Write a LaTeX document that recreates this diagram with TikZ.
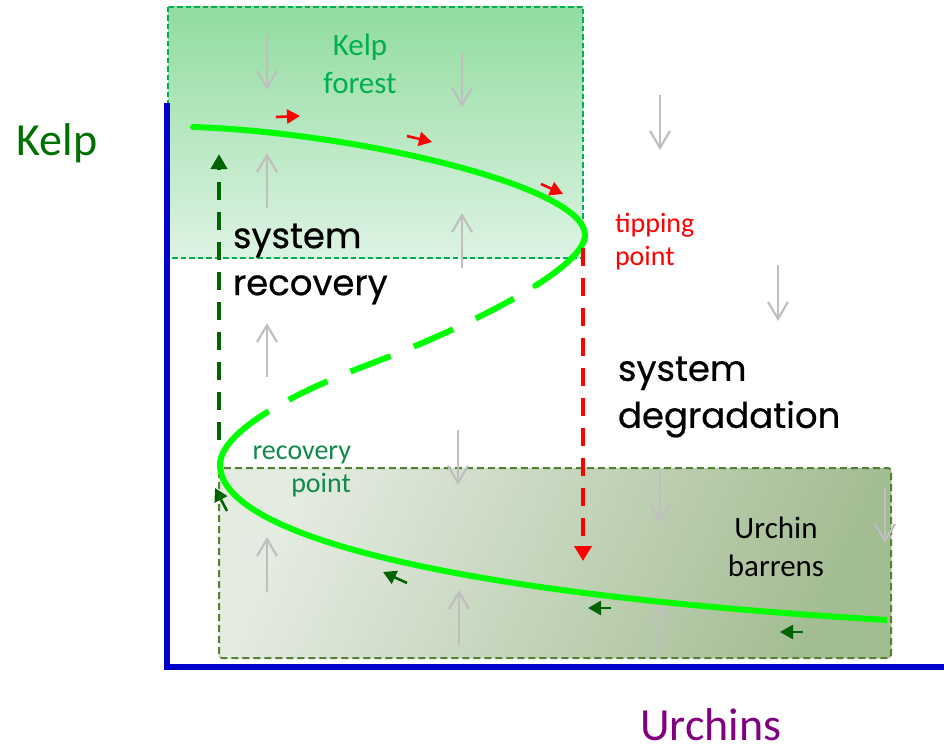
\documentclass[tikz,border=0pt]{standalone}
\usepackage{fontspec}
\setmainfont{Carlito}
\newfontfamily\comicfont[FakeBold=0.6]{Poppins}
\usetikzlibrary{arrows.meta}
\definecolor{kelptop}{RGB}{145,220,160}
\definecolor{kelpbot}{RGB}{222,243,227}
\definecolor{kelpborder}{RGB}{0,176,80}
\definecolor{urchleft}{RGB}{228,235,225}
\definecolor{urchright}{RGB}{163,189,147}
\definecolor{urchborder}{RGB}{84,130,53}
\definecolor{curvegreen}{RGB}{0,255,0}
\definecolor{axisblue}{RGB}{0,0,204}
\definecolor{kelplabel}{RGB}{0,112,0}
\definecolor{urchlabel}{RGB}{128,0,128}
\definecolor{recovlabel}{RGB}{16,138,74}
\definecolor{darkgreen}{RGB}{0,100,0}
\definecolor{arrowgray}{RGB}{191,191,191}
\definecolor{tipred}{RGB}{255,0,0}
\begin{document}
\begin{tikzpicture}[x=1pt,y=-1pt,
  garrow/.style={draw=arrowgray,line width=2.2pt,-{Straight Barb[length=17pt,width=20pt]}},
  redsmall/.style={draw=tipred,fill=tipred,line width=2.6pt,-{Triangle[length=13pt,width=14pt]}},
  greensmall/.style={draw=darkgreen,fill=darkgreen,line width=2.6pt,-{Triangle[length=13pt,width=14pt]}},
  lbl/.style={inner sep=0pt,outer sep=0pt},
  curve/.style={draw=curvegreen,line width=6pt},
  bigtxt/.style={lbl,font=\comicfont\fontsize{35.5}{47}\selectfont,align=left,anchor=west},
  midtxt/.style={lbl,font=\fontsize{31}{38.5}\selectfont,align=center},
  smalltxt/.style={lbl,font=\fontsize{28}{33}\selectfont},
  axislbl/.style={lbl,font=\fontsize{46}{50}\selectfont}]
\useasboundingbox (0,0) rectangle (944,749);

% Kelp forest region
\fill[top color=kelptop,bottom color=kelpbot] (168,7) rectangle (583,258);
\draw[kelpborder,line width=1.7pt,dash pattern=on 5.5pt off 3pt] (168,7) rectangle (583,258);

% Urchin barrens region
\fill[left color=urchleft,right color=urchright,shading angle=65,rounded corners=3pt] (219,468) rectangle (891,658);
\draw[urchborder,line width=2pt,dash pattern=on 7pt off 4pt,rounded corners=3pt] (219,468) rectangle (891,658);

% gray field arrows
\draw[garrow] (267,35) -- (267,90);
\draw[garrow] (462,52) -- (462,107);
\draw[garrow] (660,95) -- (660,150);
\draw[garrow] (778,265) -- (778,321);
\draw[garrow] (458,430) -- (458,485);
\draw[garrow] (660,468) -- (660,523);
\draw[garrow] (885,488) -- (885,543);
\draw[garrow] (267,208) -- (267,153);
\draw[garrow] (462,268) -- (462,213);
\draw[garrow] (267,377) -- (267,323);
\draw[garrow] (267,592) -- (267,537);
\draw[garrow] (459,645) -- (459,590);
\draw[garrow] (660,658) -- (660,603);

% labels
\node[midtxt,text=kelpborder] (kf) at (360,64) {Kelp\\forest};
\node[midtxt,text=black] (ub) at (776,547) {Urchin\\barrens};
\node[smalltxt,text=tipred,align=left,anchor=west] (tp) at (615,242) {tipping\\point};
\node[smalltxt,text=recovlabel,align=right,anchor=east] (rp) at (351,471) {recovery\\point};
\node[bigtxt] (sr) at (233,264) {system\\recovery};
\node[bigtxt] (sd) at (618,397) {system\\degradation};
\node[axislbl,text=kelplabel] (kl) at (57,143) {Kelp};
\node[axislbl,text=urchlabel] (ul) at (711,725) {Urchins};

% S-shaped curve: stable upper branch, unstable middle branch, stable lower branch
\coordinate (ktip) at (585,235);
\coordinate (mida) at (535.24,285.81);
\coordinate (infl) at (370,364);
\coordinate (midb) at (268.75,411.22);
\coordinate (rtip) at (220,465);
\draw[curve,line cap=round] (193,127) .. controls (350,132) and (585,185) .. (ktip)
  .. controls (585,249) and (565,267.04) .. (mida);
\draw[curve,dash pattern=on 43pt off 25pt,dash phase=43pt] (mida)
  .. controls (490.6,313.96) and (424,343.75) .. (infl)
  .. controls (335,377.125) and (297.5,393.625) .. (midb);
\draw[curve] (midb) .. controls (240,428.81) and (220,447.5) .. (rtip)
  .. controls (220,530) and (420,592) .. (887,620);

% tipping / recovery transitions
\coordinate (tipstart) at (583,248);
\coordinate (tipend) at (583,561);
\coordinate (recstart) at (219,440);
\coordinate (recend) at (219,154);
\draw[tipred,line width=4pt,dash pattern=on 18pt off 12pt,-{Triangle[length=15pt,width=17pt]}] (tipstart) -- (tipend);
\draw[darkgreen,line width=4pt,dash pattern=on 18pt off 12pt,-{Triangle[length=15pt,width=16pt]}] (recstart) -- (recend);

% small direction arrows
\draw[redsmall] (276,117) -- (300,116);
\draw[redsmall] (407,136) -- (432,142);
\draw[redsmall] (541,184) -- (563,194);
\draw[greensmall] (407,583) -- (383,572);
\draw[greensmall] (227,511) -- (215,488);
\draw[greensmall] (611,608) -- (588,608);
\draw[greensmall] (803,632) -- (780,632);

% axes
\draw[axisblue,line width=5.5pt] (167,103) -- (167,667) -- (944,667);
\end{tikzpicture}
\end{document}
